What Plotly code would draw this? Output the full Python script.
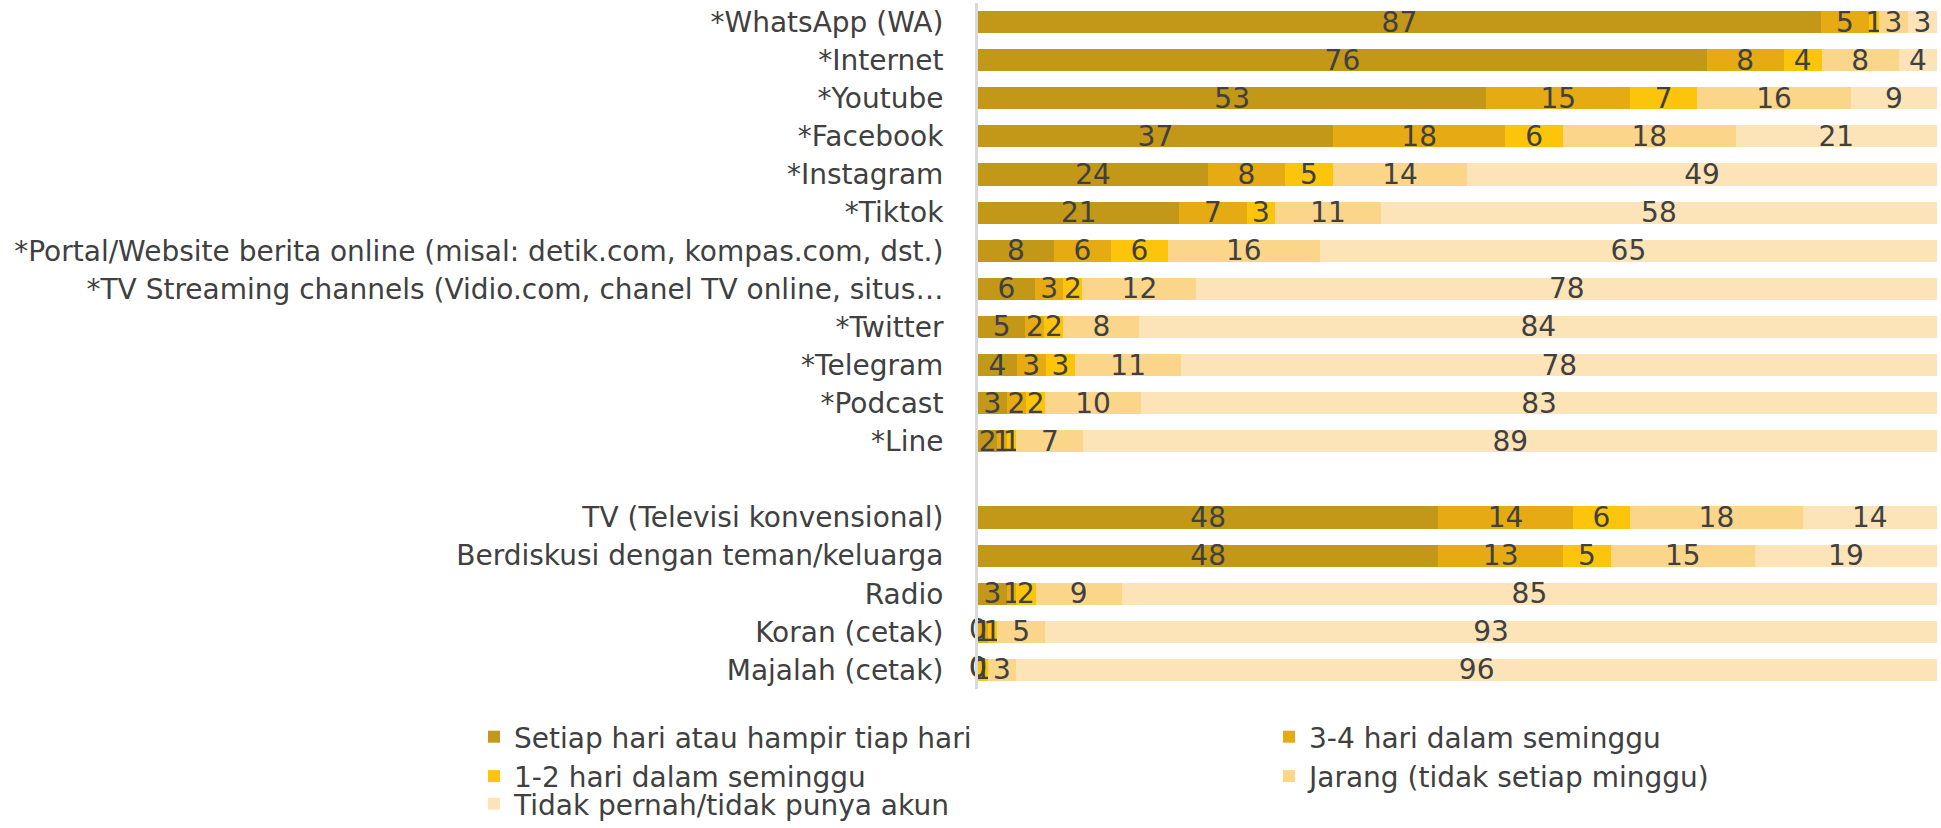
import plotly.graph_objects as go

categories = [
    "*WhatsApp (WA)", "*Internet", "*Youtube", "*Facebook", "*Instagram", "*Tiktok",
    "*Portal/Website berita online (misal: detik.com, kompas.com, dst.)",
    "*TV Streaming channels (Vidio.com, chanel TV online, situs…",
    "*Twitter", "*Telegram", "*Podcast", "*Line", " ",
    "TV (Televisi konvensional)", "Berdiskusi dengan teman/keluarga", "Radio",
    "Koran (cetak)", "Majalah (cetak)",
]

series_names = [
    "Setiap hari atau hampir tiap hari",
    "3-4 hari dalam seminggu",
    "1-2 hari dalam seminggu",
    "Jarang (tidak setiap minggu)",
    "Tidak pernah/tidak punya akun",
]

setiap_hari = [87, 76, 53, 37, 24, 21, 8, 6, 5, 4, 3, 2, None, 48, 48, 3, 0, 0]
hari_3_4    = [5, 8, 15, 18, 8, 7, 6, 3, 2, 3, 2, 1, None, 14, 13, 1, 1, 0]
hari_1_2    = [1, 4, 7, 6, 5, 3, 6, 2, 2, 3, 2, 1, None, 6, 5, 2, 1, 1]
jarang      = [3, 8, 16, 18, 14, 11, 16, 12, 8, 11, 10, 7, None, 18, 15, 9, 5, 3]
tidak       = [3, 4, 9, 21, 49, 58, 65, 78, 84, 78, 83, 89, None, 14, 19, 85, 93, 96]

values = [setiap_hari, hari_3_4, hari_1_2, jarang, tidak]
colors = ["#C39717", "#E6AA12", "#FCC50C", "#FAD58A", "#FCE4B8"]
legend_of = ["legend", "legend2", "legend", "legend2", "legend3"]

FONT = "DejaVu Sans"
FS = 28
TXT = "#404040"

fig = go.Figure()
for i, (name, vals, col) in enumerate(zip(series_names, values, colors)):
    fig.add_trace(go.Bar(
        y=categories, x=vals, name=name, orientation="h",
        marker=dict(color=col, line=dict(width=0)),
        text=[("" if v is None else str(v)) for v in vals],
        textposition="inside", insidetextanchor="middle",
        constraintext="none", textangle=0,
        textfont=dict(size=FS, color=TXT, family=FONT),
        cliponaxis=False,
        legend=legend_of[i], legendgroup=f"g{i}",
    ))

# zero-valued segments still carry a "0" label at their stack position
zx, zy, zt = [], [], []
for j, cat in enumerate(categories):
    cum = 0
    for vals in values:
        v = vals[j]
        if v is None:
            continue
        if v == 0:
            zx.append(cum)
            zy.append(cat)
            zt.append("0")
        cum += v
fig.add_trace(go.Scatter(
    x=zx, y=zy, text=zt, mode="text", textposition="middle center",
    textfont=dict(size=FS, color=TXT, family=FONT),
    showlegend=False, hoverinfo="skip", cliponaxis=False,
))

leg_common = dict(
    orientation="v", xref="container", yref="container",
    xanchor="left", yanchor="top",
    font=dict(size=FS, color=TXT, family=FONT),
    itemsizing="constant", tracegroupgap=0, bgcolor="rgba(0,0,0,0)",
    traceorder="grouped",
)
fig.update_layout(
    barmode="stack", barnorm="percent", bargap=0.42,
    width=1941, height=828,
    margin=dict(l=978, r=4, t=3, b=139, autoexpand=False),
    paper_bgcolor="white", plot_bgcolor="white",
    font=dict(family=FONT, size=FS, color=TXT),
    showlegend=True,
    legend=dict(x=474 / 1941, y=1 - 712 / 828, **leg_common),
    legend2=dict(x=1269 / 1941, y=1 - 712 / 828, **leg_common),
    legend3=dict(x=474 / 1941, y=1 - 779 / 828, **leg_common),
)
fig.update_xaxes(range=[0, 100.0001], visible=False, fixedrange=True)
fig.update_yaxes(
    categoryorder="array", categoryarray=categories,
    range=[len(categories) - 0.5, -0.5], autorange=False,
    showgrid=False, ticks="", showline=True, linecolor="#D9D9D9", linewidth=3,
    ticklabelstandoff=26, tickfont=dict(size=FS, color=TXT, family=FONT),
)
fig.write_html(
    "out.html",
    config={"displayModeBar": False},
    post_script="document.body.style.margin='0';document.body.style.overflow='hidden';",
)
